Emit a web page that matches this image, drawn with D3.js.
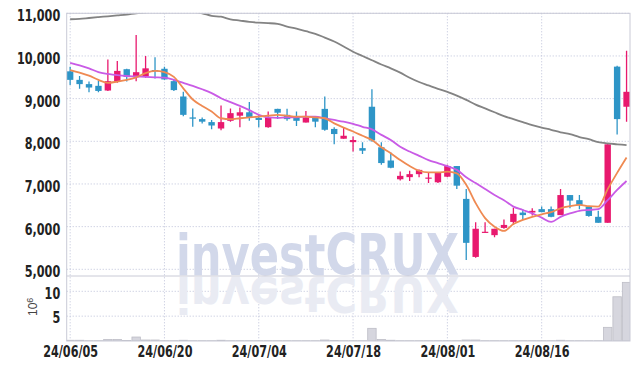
<!DOCTYPE html>
<html>
<head>
<meta charset="utf-8">
<script src="https://cdn.jsdelivr.net/npm/d3@7"></script>
<style>
body { margin: 0; background: #fff; }
</style>
</head>
<body>
<div id="chart"></div>
<script>
var dates = ["24/06/05","24/06/07","24/06/10","24/06/11","24/06/12","24/06/13","24/06/14","24/06/17","24/06/18","24/06/19",
  "24/06/20","24/06/21","24/06/24","24/06/25","24/06/26","24/06/27","24/06/28","24/07/01","24/07/02","24/07/03",
  "24/07/04","24/07/05","24/07/08","24/07/09","24/07/10","24/07/11","24/07/12","24/07/15","24/07/16","24/07/17",
  "24/07/18","24/07/19","24/07/22","24/07/23","24/07/24","24/07/25","24/07/26","24/07/29","24/07/30","24/07/31",
  "24/08/01","24/08/02","24/08/05","24/08/06","24/08/07","24/08/08","24/08/09","24/08/12","24/08/13","24/08/14",
  "24/08/16","24/08/19","24/08/20","24/08/21","24/08/22","24/08/23","24/08/26","24/08/27","24/08/28","24/08/29"];

var opens  = [9640,9440,9340,9300,9190,9400,9690,9500,9520,9670, 9700,9410,9050,8560,8520,8450,8300,8480,8600,8680,
             8550,8330,8760,8620,8560,8440,8560,8760,8290,8060, 7980,7840,8810,7860,7550,7110,7160,7230,7130,7040,
             7170,7420,6650,5290,5860,5800,5970,6110,6330,6330, 6410,6410,6270,6740,6620,6470,6230,6090,9750,8810];
var highs  = [9750,9530,9400,9420,9920,9880,9700,10490,10000,9970, 9750,9440,9160,8770,8560,8500,8840,8770,8790,8920,
             8620,8700,8760,8760,8700,8710,8570,9050,8330,8330, 8110,7980,9220,7980,7740,7290,7310,7340,7270,7280,
             7450,7420,6880,6100,6100,5950,6170,6440,6410,6430, 6470,6470,6880,6740,6740,6470,6370,7930,9770,10120];
var lows   = [9320,9230,9150,9150,9180,9370,9400,9410,9490,9470, 9440,9180,8590,8340,8420,8280,8260,8460,8330,8480,
             8330,8320,8520,8480,8360,8440,8330,8250,7930,8060, 7760,7700,7990,7450,7370,7080,7070,7160,7020,7020,
             7160,6880,5220,5270,5860,5750,5950,6040,6160,6260, 6340,6220,6270,6430,6410,6230,6090,6090,8160,8460];
var closes = [9440,9340,9260,9180,9410,9650,9510,9620,9710,9650, 9450,9200,8620,8530,8460,8370,8450,8660,8680,8550,
             8500,8560,8670,8520,8480,8560,8460,8270,8170,8130, 8030,7780,8020,7490,7380,7190,7230,7330,7150,7270,
             7420,6960,5620,5950,5880,5950,6040,6300,6270,6370, 6340,6230,6740,6610,6510,6250,6090,7930,8520,9160];

// volume, millions of shares
var volume = [0.15,0.15,0.05,0.05,0.3,0.3,0.1,0.8,0.2,0.2, 0.05,0.05,0.15,0.05,0.05,0.05,0.15,0.05,0.05,0.05,
              0.05,0.05,0.05,0.05,0.05,0.05,0.05,0.2,0.1,0.05, 0.05,0.05,2.55,0.3,0.15,0.05,0.05,0.05,0.05,0.05,
              0.05,0.05,0.2,0.2,0.05,0.05,0.05,0.05,0.05,0.05, 0.05,0.05,0.15,0.05,0.05,0.05,0.05,2.75,8.9,11.8];

var ma5  = [9670,9610,9540,9440,9370,9400,9440,9500,9600,9650, 9620,9510,9240,8980,8830,8700,8540,8520,8540,8560,
            8580,8600,8620,8600,8580,8580,8560,8540,8420,8320, 8230,8130,8030,7860,7720,7560,7420,7310,7270,7270,
            7290,7250,6980,6550,6200,6000,5900,6060,6160,6230, 6290,6340,6430,6480,6510,6480,6470,6880,7260,7620];
var ma20 = [9840,9780,9710,9620,9580,9550,9530,9520,9510,9500, 9490,9440,9370,9300,9220,9130,9010,8920,8830,8730,
            8620,8560,8550,8560,8560,8580,8580,8540,8500,8460, 8410,8340,8280,8150,8030,7870,7760,7660,7560,7490,
            7420,7330,7160,7020,6880,6740,6620,6470,6390,6310, 6210,6110,6230,6310,6370,6390,6410,6620,6860,7070];
var ma60 = [10860,10870,10890,10910,10930,10950,10970,11000,11020,11050, 11070,11070,11060,11040,11000,10940,10920,10860,10830,10800,
            10780,10770,10750,10690,10640,10580,10520,10430,10340,10220, 10100,10000,9900,9800,9710,9610,9490,9390,9310,9230,
            9160,9070,8970,8860,8770,8680,8590,8520,8450,8380, 8320,8270,8210,8170,8100,8050,7980,7950,7930,7910];

var priceTicks = [5000,6000,7000,8000,9000,10000,11000];
var volTicks = [5,10];
var dateTicks = ["24/06/05","24/06/20","24/07/04","24/07/18","24/08/01","24/08/16"];

var W = 639, H = 370;
var pLeft = 66.7, pRight = 630, pTop = 13.3, pMid = 276, pBottom = 341;
var upCol = "#e8196e", downCol = "#2e95c7";
var font = "'DejaVu Sans Condensed','DejaVu Sans',sans-serif";

var svg = d3.select("#chart").append("svg")
  .attr("width", W)
  .attr("height", H);

var x = d3.scalePoint().domain(dates).range([pLeft, pRight]).padding(0.365);
var y = d3.scaleLinear().domain([5000, 11000]).range([269.3, pTop]);
var yv = d3.scaleLinear().domain([0, 10]).range([pBottom, 291.3]);

var defs = svg.append("defs");
defs.append("clipPath").attr("id", "clipPrice")
  .append("rect").attr("x", pLeft).attr("y", pTop).attr("width", pRight - pLeft).attr("height", pMid - pTop);
defs.append("clipPath").attr("id", "clipVol")
  .append("rect").attr("x", pLeft).attr("y", pMid).attr("width", pRight - pLeft).attr("height", pBottom - pMid);

// grid
var grid = svg.append("g").attr("stroke", "#bcc0d8").attr("stroke-dasharray", "1,2").attr("stroke-width", 1);
grid.selectAll(".hp").data(priceTicks).enter().append("line")
  .attr("x1", pLeft).attr("x2", pRight)
  .attr("y1", d => y(d)).attr("y2", d => y(d));
grid.selectAll(".hv").data(volTicks).enter().append("line")
  .attr("x1", pLeft).attr("x2", pRight)
  .attr("y1", d => yv(d)).attr("y2", d => yv(d));
grid.selectAll(".vx").data(dateTicks).enter().append("line")
  .attr("x1", d => x(d)).attr("x2", d => x(d))
  .attr("y1", pTop).attr("y2", pBottom);

// watermark and its reflection
var wm = svg.append("g");
wm.append("text")
  .attr("x", 176).attr("y", pMid - 1)
  .attr("font-family", "'DejaVu Sans',sans-serif")
  .attr("font-weight", "700")
  .attr("font-size", "57px")
  .attr("textLength", 283)
  .attr("lengthAdjust", "spacingAndGlyphs")
  .attr("fill", "#d2d8ea")
  .text("investCRUX");
wm.append("text")
  .attr("transform", "translate(0," + (pMid + 1) + ") scale(1,-0.88)")
  .attr("x", 176).attr("y", 0)
  .attr("font-family", "'DejaVu Sans',sans-serif")
  .attr("font-weight", "700")
  .attr("font-size", "57px")
  .attr("textLength", 283)
  .attr("lengthAdjust", "spacingAndGlyphs")
  .attr("fill", "#e9ebf3")
  .text("investCRUX");

// volume
var step = x.step();
svg.append("g").attr("clip-path", "url(#clipVol)")
  .selectAll("rect").data(dates).enter().append("rect")
  .attr("x", d => x(d) - step / 2 + 0.5)
  .attr("width", step - 1)
  .attr("y", (d, i) => yv(volume[i]))
  .attr("height", (d, i) => pBottom - yv(volume[i]))
  .attr("fill", "#d6d6de")
  .attr("stroke", "#bdbdc6")
  .attr("stroke-width", 0.8);

// candles
var cg = svg.append("g").attr("clip-path", "url(#clipPrice)");
var candle = cg.selectAll("g").data(dates).enter().append("g");
candle.append("line")
  .attr("x1", d => x(d)).attr("x2", d => x(d))
  .attr("y1", (d, i) => y(highs[i])).attr("y2", (d, i) => y(lows[i]))
  .attr("stroke", (d, i) => closes[i] >= opens[i] ? upCol : downCol)
  .attr("stroke-width", 1.3);
candle.append("rect")
  .attr("x", d => x(d) - 3.2)
  .attr("width", 6.4)
  .attr("y", (d, i) => y(Math.max(opens[i], closes[i])))
  .attr("height", (d, i) => Math.max(1.2, Math.abs(y(opens[i]) - y(closes[i]))))
  .attr("fill", (d, i) => closes[i] >= opens[i] ? upCol : downCol);

// moving averages
var lg = svg.append("g").attr("clip-path", "url(#clipPrice)").attr("fill", "none");
function maLine(arr) {
  return d3.line().x((d, i) => x(dates[i])).y(d => y(d)).curve(d3.curveMonotoneX)(arr);
}
lg.append("path").attr("d", maLine(ma60)).attr("stroke", "#838383").attr("stroke-width", 1.8);
lg.append("path").attr("d", maLine(ma20)).attr("stroke", "#c95be6").attr("stroke-width", 1.8);
lg.append("path").attr("d", maLine(ma5)).attr("stroke", "#ef8a52").attr("stroke-width", 1.8);

// frame
var frame = svg.append("g").attr("stroke", "#c9cad6").attr("stroke-width", 1).attr("fill", "none");
frame.append("rect").attr("x", pLeft).attr("y", pTop).attr("width", pRight - pLeft).attr("height", pBottom - pTop);
frame.append("line").attr("x1", pLeft).attr("x2", pRight).attr("y1", pMid).attr("y2", pMid);

// axes
var yAxis = svg.append("g")
  .attr("transform", "translate(" + pLeft + ",0)")
  .call(d3.axisLeft(y).tickValues(priceTicks).tickFormat(d3.format(",")).tickSize(0).tickPadding(6.5));
var vAxis = svg.append("g")
  .attr("transform", "translate(" + pLeft + ",0)")
  .call(d3.axisLeft(yv).tickValues(volTicks).tickSize(0).tickPadding(6.5));
var xAxis = svg.append("g")
  .attr("transform", "translate(0," + pBottom + ")")
  .call(d3.axisBottom(x).tickValues(dateTicks).tickSize(0).tickPadding(5));

[yAxis, vAxis, xAxis].forEach(function(a) {
  a.select(".domain").remove();
  a.selectAll("text")
    .attr("font-family", font)
    .attr("font-weight", "700")
    .attr("font-size", "15px")
    .attr("fill", "#222")
    .each(function() {
      // narrow the glyphs to match the condensed face of the original
      var w = this.getComputedTextLength();
      d3.select(this).attr("textLength", w * 0.83).attr("lengthAdjust", "spacingAndGlyphs");
    });
});
yAxis.selectAll("text").attr("dy", "0.5em");
vAxis.selectAll("text").attr("dy", "0.45em");

// unit label
svg.append("text")
  .attr("transform", "translate(37,316) rotate(-90)")
  .attr("font-family", "'Liberation Sans','Arial',sans-serif")
  .attr("font-size", "12px")
  .attr("fill", "#444")
  .text("10")
  .append("tspan")
  .attr("dy", "-0.45em")
  .attr("font-size", "9px")
  .text("6");
</script>
</body>
</html>
